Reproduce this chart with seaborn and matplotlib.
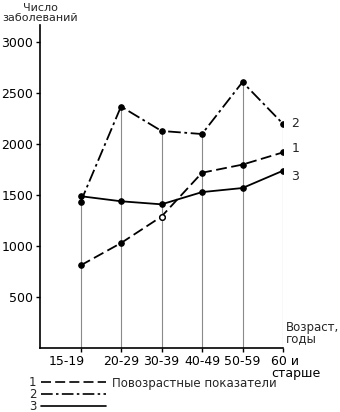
import matplotlib
matplotlib.use("Agg")
import matplotlib.pyplot as plt
import matplotlib.transforms as mtransforms
from matplotlib.lines import Line2D
import seaborn as sns
import pandas as pd
import numpy as np

# ---- data ----
categories = ["15-19", "20-29", "30-39", "40-49", "50-59", "60 и\nстарше"]
series1 = [810, 1030, 1290, 1720, 1800, 1920]   # Повозрастные показатели (dashed)
series2 = [1430, 2370, 2130, 2100, 2610, 2200]  # dash-dot
series3 = [1490, 1440, 1410, 1530, 1570, 1740]  # solid
series_names = ["1", "2", "3"]
yticks = [500, 1000, 1500, 2000, 2500, 3000]

sns.set_theme(style="white")
plt.rcParams['font.family'] = ['DejaVu Sans']

fig = plt.figure(figsize=(3.4, 4.12), dpi=100)
ax = fig.add_axes([40/340, 1-348/412, (283-40)/340, (348-25)/412])

pos = np.arange(len(categories))
df = pd.DataFrame({"pos": np.tile(pos, 3),
                   "value": series1 + series2 + series3,
                   "series": np.repeat(series_names, len(categories))})

# drop lines from highest point to the axis
tops = df.groupby("pos")["value"].max()
ax.vlines(tops.index, 0, tops.values, color="#8a8a8a", lw=0.8, zorder=1)

styles = {"1": (0, (6, 2.5)), "2": (0, (7, 2, 1.5, 2)), "3": "-"}
for name in series_names:
    sub = df[df.series == name]
    sns.lineplot(data=sub, x="pos", y="value", ax=ax, color="black", lw=1.3,
                 linestyle=styles[name], marker="o", markersize=4,
                 markeredgecolor="black", markerfacecolor="black", zorder=3,
                 legend=False)
# open circle for series 1 at 30-39
ax.plot(pos[2], series1[2], "o", ms=4, mfc="white", mec="black", mew=1, zorder=4)

ax.set_xlim(-1, 5)
ax.set_ylim(0, 3170)
ax.set_xlabel("")
ax.set_ylabel("")
ax.set_yticks(yticks)
ax.set_yticklabels([str(v) for v in yticks], fontsize=9)
ax.set_xticks(pos)
ax.set_xticklabels(categories, fontsize=9, linespacing=0.95)
ax.tick_params(axis="both", direction="out", length=3, width=1, color="black",
               pad=2, left=True, bottom=True, labelcolor="black")
for s in ["top", "right"]:
    ax.spines[s].set_visible(False)
for s in ["left", "bottom"]:
    ax.spines[s].set_color("black")
    ax.spines[s].set_linewidth(1.2)

# adjust particular tick label alignment
labels = ax.get_xticklabels()
labels[0].set_transform(labels[0].get_transform() +
                        mtransforms.ScaledTranslation(-14/100, 0, fig.dpi_scale_trans))
labels[-1].set_horizontalalignment("left")
labels[-1].set_transform(labels[-1].get_transform() +
                         mtransforms.ScaledTranslation(-12/100, 0, fig.dpi_scale_trans))

# series labels at right
for name, vals, dy in zip(series_names, [series1, series2, series3], [3, 0, -4]):
    ax.annotate(name, (pos[-1], vals[-1]), xytext=(6, dy), textcoords="offset points",
                fontsize=9, va="center", ha="left", annotation_clip=False)

fig.text(40/340, 1-13/412, "Число\nзаболеваний", ha="center", va="center",
         fontsize=8, linespacing=0.95)
fig.text(286/340, 1-333/412, "Возраст,\nгоды", ha="left", va="center",
         fontsize=8.5, linespacing=0.9)
fig.text(112/340, 1-383/412, "Повозрастные показатели", ha="left", va="center",
         fontsize=8.5)

handles = [Line2D([], [], color="black", lw=1.2, linestyle=styles[n]) for n in series_names]
leg = fig.legend(handles, series_names, loc="upper left",
                 bbox_to_anchor=(29/340, 1-376/412), markerfirst=False, frameon=False,
                 fontsize=8.5, handlelength=5.5, handletextpad=0.4, labelspacing=-0.1,
                 borderpad=0, borderaxespad=0)

fig.savefig("out.png", dpi=100)
